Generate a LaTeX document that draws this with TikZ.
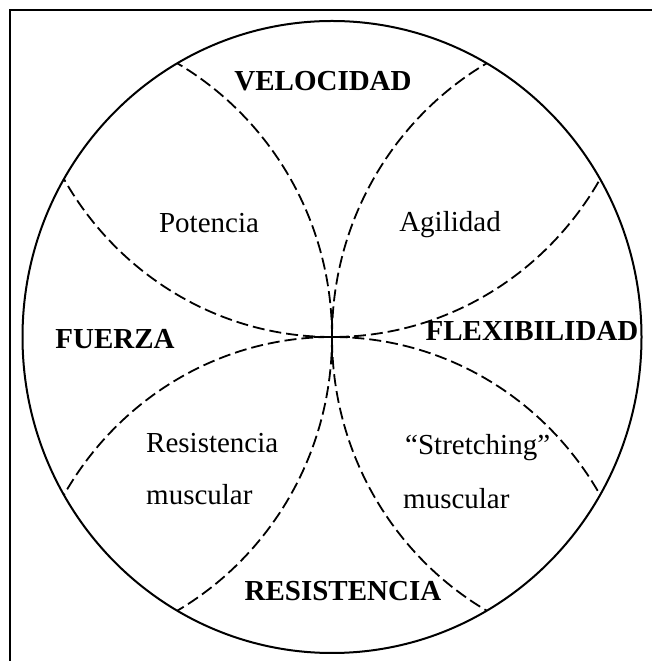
\documentclass[tikz,border=0pt]{standalone}
\usepackage{fontspec}
\setmainfont{Liberation Serif}
\begin{document}
\begin{tikzpicture}[x=1pt,y=1pt,
  rim/.style={line width=2pt},
  arcline/.style={line width=1.8pt, dash pattern=on 12pt off 5pt},
  bigcap/.style={font=\fontsize{29}{31}\selectfont\bfseries, inner sep=0pt},
  sublabel/.style={font=\fontsize{29}{31}\selectfont, inner sep=0pt}]
\useasboundingbox (0,0) rectangle (652,661);
% frame
\draw[line width=1.6pt] (10,0) -- (10,651) -- (652,651);
\coordinate (O) at (332,324);
% dashed arcs
\begin{scope}
  \clip (O) ellipse [x radius=309.5pt, y radius=316pt];
  \draw[arcline] (22.5,324) ellipse [x radius=309.5pt, y radius=316pt];
  \draw[arcline] (641.5,324) ellipse [x radius=309.5pt, y radius=316pt];
  \draw[arcline] (332,640) ellipse [x radius=309.5pt, y radius=316pt];
  \draw[arcline] (332,8) ellipse [x radius=309.5pt, y radius=316pt];
\end{scope}
% outer circle
\draw[rim] (O) ellipse [x radius=309.5pt, y radius=316pt];
% central cross
\draw[line width=2pt] (314,324) -- (350,324);
\draw[line width=2pt] (332,349) -- (332,298);
% labels
\node[bigcap, anchor=base] (vel) at (323,570) {VELOCIDAD};
\node[bigcap, anchor=base] (fue) at (115,312) {FUERZA};
\node[bigcap, anchor=base] (fle) at (532,320) {FLEXIBILIDAD};
\node[bigcap, anchor=base] (res) at (343,60) {RESISTENCIA};
\node[sublabel, anchor=base] (pot) at (209,428) {Potencia};
\node[sublabel, anchor=base] (agi) at (450,429) {Agilidad};
\node[sublabel, anchor=base west] (rm1) at (146,208) {Resistencia};
\node[sublabel, anchor=base west] (rm2) at (146,156) {muscular};
\node[sublabel, anchor=base west] (sm1) at (405,206) {``Stretching''};
\node[sublabel, anchor=base west] (sm2) at (403,152) {muscular};
\end{tikzpicture}
\end{document}
